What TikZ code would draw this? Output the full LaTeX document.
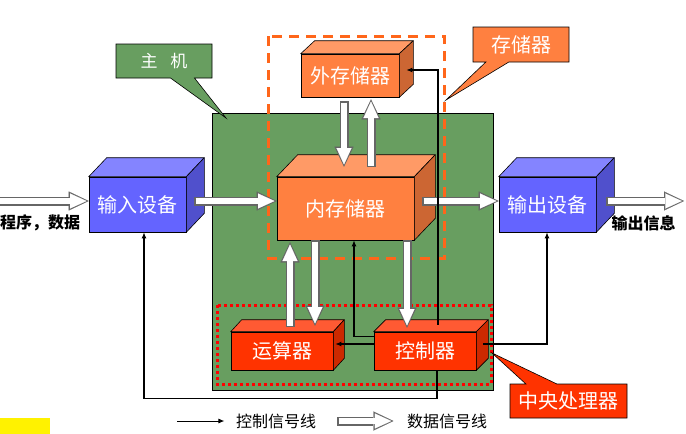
\documentclass[tikz,border=0pt]{standalone}
\usepackage{fontspec}
\setmainfont{Noto Sans CJK SC}
\usepackage{xcolor}
\usepackage{tikz}
\usetikzlibrary{shapes,shapes.callouts,arrows.meta,calc}

\definecolor{hostgreen}{RGB}{104,158,96}
\definecolor{devfront}{RGB}{100,100,255}
\definecolor{devtop}{RGB}{132,132,255}
\definecolor{devside}{RGB}{80,80,204}
\definecolor{memfront}{RGB}{255,128,64}
\definecolor{memtop}{RGB}{255,154,102}
\definecolor{memside}{RGB}{204,102,51}
\definecolor{cpufront}{RGB}{255,51,0}
\definecolor{cputop}{RGB}{255,90,51}
\definecolor{cpuside}{RGB}{204,41,0}
\definecolor{memdash}{RGB}{255,102,26}

% top and side faces of a box: node, dx, dy, top colour, side colour
\newcommand{\cubefaces}[5]{%
  \filldraw[fill=#4, draw=black, line width=0.6pt, line join=round]
    (#1.north west) -- ++(#2,-#3) -- ($(#1.north east)+(#2,-#3)$) -- (#1.north east) -- cycle;
  \filldraw[fill=#5, draw=black, line width=0.6pt, line join=round]
    (#1.north east) -- ++(#2,-#3) -- ($(#1.south east)+(#2,-#3)$) -- (#1.south east) -- cycle;}

% hollow data arrow
\newcommand{\dataarrow}[2]{%
  \draw[dataedge] #1 -- #2;
  \draw[datacore] #1 -- #2;}

\begin{document}
\begin{tikzpicture}[x=1pt, y=-1pt,
    unit/.style={draw, line width=0.6pt, inner sep=0pt, text=white,
                 font=\fontsize{20}{24}\selectfont},
    ctrl/.style={line width=1.4pt, -{Latex[length=6pt,width=5pt]}},
    dataedge/.style={draw=black!60, line width=9pt,
                     -{Triangle[length=20pt,width=19pt,line width=0.1pt]}},
    datacore/.style={draw=white, line width=6.6pt,
                     -{Triangle[length=16.5pt,width=15pt,line width=0.1pt]},
                     shorten >=2.2pt, shorten <=1.2pt},
    tag/.style={rectangle callout, draw, line width=0.6pt, text=white,
                inner sep=0pt, font=\fontsize{20}{24}\selectfont},
    legend/.style={font=\fontsize{16}{18}\selectfont}]
    \useasboundingbox (0,0) rectangle (686,434);

    % Hôte
    \filldraw[fill=hostgreen, draw=black, line width=0.7pt] (212,113) rectangle (493,390);

    % Zone mémoire
    \draw[memdash, line width=3pt, dash pattern=on 10pt off 7pt] (268,36) rectangle (444,258);

    % Zone unité centrale
    \draw[red, line width=3pt, dash pattern=on 3pt off 3pt] (217,305) rectangle (491,384);

    % Blocs
    \node[unit, fill=devfront, minimum width=97, minimum height=55] (in) at (137.5,204.5) {输入设备};
    \cubefaces{in}{18}{19}{devtop}{devside}
    \node[unit, fill=devfront, minimum width=97, minimum height=55] (out) at (547.5,204.5) {输出设备};
    \cubefaces{out}{18}{19}{devtop}{devside}
    \node[unit, fill=memfront, minimum width=137, minimum height=63] (mem) at (345.5,208.5) {内存储器};
    \cubefaces{mem}{21}{22}{memtop}{memside}
    \node[unit, fill=memfront, minimum width=98, minimum height=43] (ext) at (350,75.5) {外存储器};
    \cubefaces{ext}{14}{13}{memtop}{memside}
    \node[unit, fill=cpufront, minimum width=102, minimum height=38] (alu) at (282,351) {运算器};
    \cubefaces{alu}{11}{12}{cputop}{cpuside}
    \node[unit, fill=cpufront, minimum width=102, minimum height=38] (ctl) at (425,351) {控制器};
    \cubefaces{ctl}{12}{12}{cputop}{cpuside}

    % Flux de données
    \coordinate (src) at (-4,201);
    \coordinate (sink) at (684,201);
    \dataarrow{(src)}{($(in.west)+(0,-3.5)$)}
    \dataarrow{($(in.east)+(8,-3.5)$)}{($(mem.west)+(0,-7.5)$)}
    \dataarrow{($(mem.east)+(8,-7.5)$)}{($(out.west)+(0,-3.5)$)}
    \dataarrow{($(out.east)+(10,-3.5)$)}{(sink)}
    \dataarrow{($(ext.south)+(-6,4)$)}{($(mem.north)+(-1.5,-10)$)}
    \dataarrow{($(mem.north)+(25.5,-10)$)}{($(ext.south)+(21,2)$)}
    \dataarrow{($(alu.north)+(8,-5)$)}{($(mem.south)+(-55.5,2)$)}
    \dataarrow{($(mem.south)+(-30.5,0)$)}{($(alu.north)+(33,-6)$)}
    \dataarrow{($(mem.south)+(61.5,0)$)}{($(ctl.north)+(-18,-4)$)}

    % Signaux de commande
    \draw[ctrl] ($(ctl.north)+(13,-7)$) |- ($(ext.east)+(7,-5.5)$);
    \draw[ctrl] ($(ctl.north west)+(0,5)$) -| ($(mem.south)+(8.5,0)$);
    \draw[ctrl] ($(ctl.west)+(0,-7)$) -- ($(alu.east)+(2,-7)$);
    \draw[ctrl] ($(ctl.east)+(7,-7)$) -| ($(out.south)+(-0.5,0)$);
    \draw[ctrl] ($(ctl.south)+(12,0)$) -- ++(0,28) -| ($(in.south)+(6.5,0)$);

    % Entrée / sortie
    \node[font=\bfseries\fontsize{16}{18}\selectfont, anchor=west, inner sep=0pt] (srclbl) at (0,223) {程序，数据};
    \node[font=\bfseries\fontsize{16}{18}\selectfont, inner sep=0pt] (sinklbl) at (643.5,223) {输出信息};

    % Bulles
    \node[tag, fill=hostgreen, minimum width=96, minimum height=34,
          callout absolute pointer={(226,118)}, callout pointer width=24pt,
          font=\fontsize{17}{20}\selectfont] (hosttag) at (164,61) {主\hspace{13pt}机};
    \node[tag, fill=memfront, minimum width=96, minimum height=35,
          callout absolute pointer={(446,100)}, callout pointer width=23pt] (memtag) at (521,44.5) {存储器};
    \node[tag, fill=cpufront, minimum width=117, minimum height=34,
          callout absolute pointer={(492,353)}, callout pointer width=31pt] (cputag) at (568.5,401) {中央处理器};

    % Légende
    \node[legend] (lgctl) at (276,421) {控制信号线};
    \node[legend] (lgdata) at (447,421) {数据信号线};
    \coordinate (lgA) at (177,421);
    \draw[ctrl, line width=1pt] (lgA) -- ($(lgctl.west)+(-8,0)$);
    \dataarrow{($(lgdata.west)+(-66,0)$)}{($(lgdata.west)+(-10,0)$)}

    \fill[yellow] (0,418) rectangle (50,434);
\end{tikzpicture}
\end{document}
